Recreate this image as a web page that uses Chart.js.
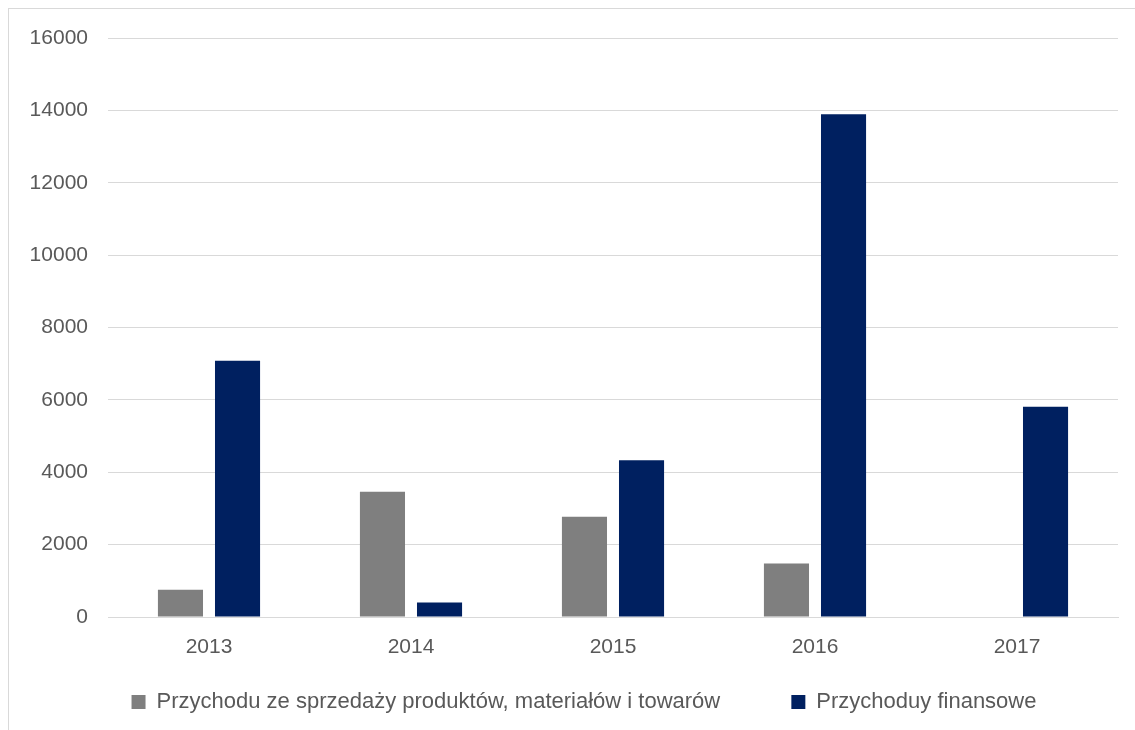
<!DOCTYPE html>
<html>
<head>
<meta charset="utf-8">
<script src="https://cdn.jsdelivr.net/npm/chart.js@4/dist/chart.umd.min.js"></script>
<style>
  html, body { margin: 0; padding: 0; background: #fff; overflow: hidden; }
  #frame { position: absolute; left: 8px; top: 8px; width: 1200px; height: 800px; border: 1px solid #d9d9d9; box-sizing: border-box; }
  #wrap { position: absolute; left: 0; top: 0; width: 1135px; height: 730px; }
</style>
</head>
<body>
<div id="frame"></div>
<div id="wrap"><canvas id="c"></canvas></div>
<script>
const categories = ["2013", "2014", "2015", "2016", "2017"];
const seriesNames = ["Przychodu ze sprzedaży produktów, materiałów i towarów", "Przychoduy finansowe"];
const salesRevenue = [750, 3460, 2770, 1480, null];
const financialRevenue = [7080, 400, 4330, 13890, 5810];
const yTicks = [0, 2000, 4000, 6000, 8000, 10000, 12000, 14000, 16000];

const FONT = "'Liberation Sans', Arial, sans-serif";
const TEXT = "#595959";
const LEGEND_SHIFT = 25;

const legendShift = {
  id: "legendShift",
  afterLayout(chart) {
    if (chart.legend) {
      chart.legend.left += LEGEND_SHIFT;
      chart.legend.right += LEGEND_SHIFT;
    }
  }
};

new Chart(document.getElementById("c"), {
  type: "bar",
  data: {
    labels: categories,
    datasets: [
      { label: seriesNames[0], data: salesRevenue, backgroundColor: "#7f7f7f", borderWidth: 0,
        categoryPercentage: 0.565, barPercentage: 0.79 },
      { label: seriesNames[1], data: financialRevenue, backgroundColor: "#002060", borderWidth: 0,
        categoryPercentage: 0.565, barPercentage: 0.79 }
    ]
  },
  plugins: [legendShift],
  options: {
    responsive: true,
    maintainAspectRatio: false,
    animation: false,
    devicePixelRatio: 1,
    layout: { padding: { top: 38, right: 17, bottom: 7, left: 0 } },
    plugins: {
      tooltip: { enabled: false },
      legend: {
        position: "bottom",
        labels: {
          font: { family: FONT, size: 22 },
          color: TEXT,
          boxWidth: 14,
          boxHeight: 14,
          padding: 10,
          generateLabels: (chart) => {
            const items = Chart.defaults.plugins.legend.labels.generateLabels(chart);
            items[0].text = items[0].text + "\u00a0".repeat(10);
            return items;
          }
        }
      }
    },
    scales: {
      x: {
        grid: { display: false, drawTicks: false },
        border: { display: true, color: "#d9d9d9", width: 1 },
        ticks: { font: { family: FONT, size: 21 }, color: TEXT, padding: 18 },
        afterFit: (s) => { s.height = 64; }
      },
      y: {
        min: 0, max: 16000,
        afterBuildTicks: (s) => { s.ticks = yTicks.map(v => ({ value: v })); },
        grid: { color: "#d9d9d9", lineWidth: 1, drawTicks: false },
        border: { display: false },
        ticks: { font: { family: FONT, size: 21 }, color: TEXT, padding: 20,
                 callback: (v) => String(v) },
        afterFit: (s) => { s.width = 108; }
      }
    }
  }
});
</script>
</body>
</html>
